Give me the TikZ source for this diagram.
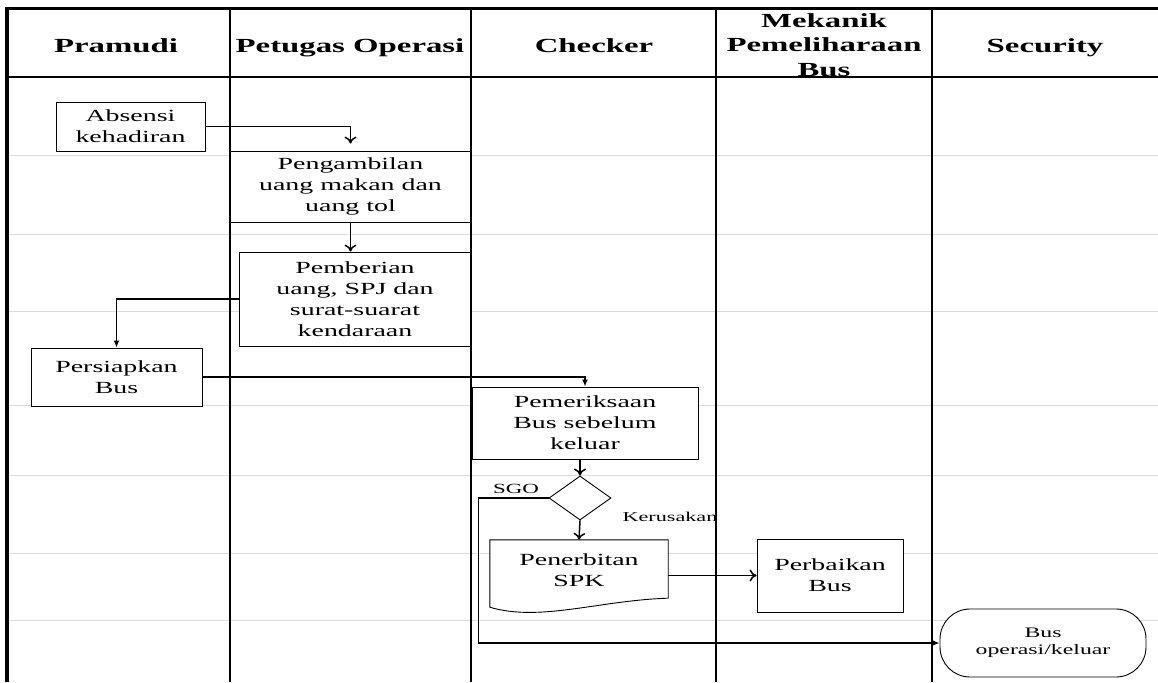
\documentclass[tikz,border=0pt]{standalone}
\usepackage{fontspec}
\setmainfont{Liberation Serif}[FakeStretch=1.64]
\usetikzlibrary{arrows.meta,calc,shapes.geometric}

\tikzset{
  box/.style={draw, fill=white, line width=0.9pt, inner sep=0pt, align=center, font=\fontsize{17}{21}\selectfont},
  head/.style={align=center, font=\fontsize{20}{24.5}\selectfont\bfseries},
  small/.style={inner sep=0pt, font=\fontsize{14.5}{17}\selectfont},
  lane/.style={line width=1.8pt},
  row/.style={draw=black!14, line width=0.9pt},
  vee/.style={-{To[length=7pt,width=12pt]}, line width=1.5pt},
  tri/.style={-{Latex[length=7pt,width=6pt]}, line width=1.5pt},
}

\begin{document}
\begin{tikzpicture}[x=1pt, y=-1pt]
  \useasboundingbox (0,0) rectangle (1158,682);
  % rows
  \foreach \y in {155,234,311,405,475,553,620}
    \draw[row] (7,\y) -- (1158,\y);

  % headers
  \node[head, anchor=base] (hpram) at (116,53) {Pramudi};
  \node[head, anchor=base] (hpet) at (350,53) {Petugas Operasi};
  \node[head, anchor=base] (hcheck) at (594,53) {Checker};
  \node[head] (hmek) at (824,45) {Mekanik\\Pemeliharaan\\Bus};
  \node[head, anchor=base] (hsec) at (1045,53) {Security};

  % steps
  \node[box, minimum width=149pt, minimum height=49pt] (abs) at (130.5,126.5) {Absensi\\kehadiran};
  \node[box, minimum width=241pt, minimum height=71pt] (amb) at (350.5,186.5) {Pengambilan\\uang makan dan\\uang tol};
  \node[box, minimum width=232pt, minimum height=94pt] (pemb) at (355,299) {Pemberian\\uang, SPJ dan\\surat-suarat\\kendaraan};
  \node[box, minimum width=171pt, minimum height=58pt] (prep) at (116.5,377) {Persiapkan\\Bus};
  \node[box, minimum width=226pt, minimum height=72pt] (pem) at (585,423) {Pemeriksaan\\Bus sebelum\\keluar};
  \node[box, diamond, minimum width=62pt, minimum height=44pt] (dia) at (580,498) {};
  \node[minimum width=178pt, minimum height=67pt, inner sep=0pt] (spk) at (579,573.5) {};
  \draw[fill=white, line width=0.9pt] (spk.north west) -- (spk.north east) -- ($(spk.south east)+(0,-9)$)
    .. controls ($(spk.south)+(21,-7)$) and ($(spk.south west)+(50,15)$) .. (spk.south west) -- cycle;
  \node[box, draw=none, fill=none] (spktxt) at ($(spk.center)+(0,-3)$) {Penerbitan\\SPK};
  \node[box, minimum width=146pt, minimum height=73pt] (perb) at (830,575.5) {Perbaikan\\Bus};
  \node[box, small, rounded corners=30pt, minimum width=206pt, minimum height=68pt, align=center] (busop) at (1043,643) {Bus\\operasi/keluar};

  \node[small, font=\fontsize{14}{17}\selectfont] (sgo) at (516,489) {SGO};
  \node[small, font=\fontsize{13.5}{16}\selectfont] (rusak) at (670,517) {Kerusakan};

  % lanes
  \draw[line width=3pt] (5,9) -- (1158,9);
  \draw[line width=1.6pt] (7,77) -- (1158,77);
  \draw[line width=4pt] (7,8) -- (7,682);
  \foreach \x in {230,471,716,932}
    \draw[lane] (\x,9) -- (\x,682);

  % flow
  \draw[vee, shorten >=7pt] (abs.east) -| (amb.north);
  \path[vee]
    (amb.south) edge (amb.south |- pemb.north)
    (dia.north |- pem.south) edge (dia.north)
    (dia.south) edge (spk.north)
    (spk.east |- perb.west) edge (perb.west);
  \draw[tri] (pemb.west) -| (prep.north);
  \draw[tri] (prep.east) -| (pem.north);
  \draw[tri, line width=1.8pt] (dia.west) -- ++(-70,0) |- (busop.west);
\end{tikzpicture}
\end{document}
